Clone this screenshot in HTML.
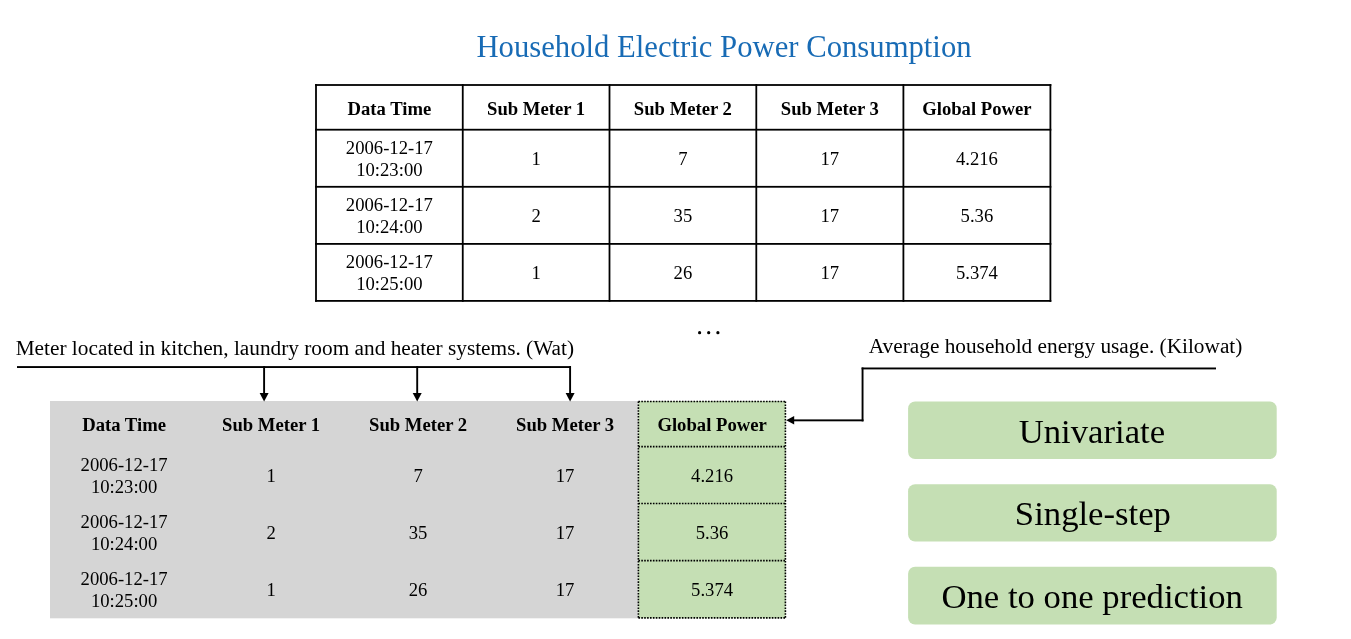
<!DOCTYPE html>
<html><head><meta charset="utf-8"><style>
html,body{margin:0;padding:0;background:#ffffff;overflow:hidden;}
svg{display:block;will-change:transform;font-family:"Liberation Serif", serif;}
</style></head><body>
<svg width="1351" height="639" viewBox="0 0 1351 639">
<rect x="50" y="401" width="588.5" height="217.3" fill="#d5d5d5"/>
<rect x="638.4" y="401" width="147.2" height="217.3" fill="#c5dfb4"/>
<rect x="315.10" y="84.10" width="1.8" height="217.70" fill="#000"/>
<rect x="461.85" y="84.10" width="1.8" height="217.70" fill="#000"/>
<rect x="608.60" y="84.10" width="1.8" height="217.70" fill="#000"/>
<rect x="755.40" y="84.10" width="1.8" height="217.70" fill="#000"/>
<rect x="902.50" y="84.10" width="1.8" height="217.70" fill="#000"/>
<rect x="1049.50" y="84.10" width="1.8" height="217.70" fill="#000"/>
<rect x="315.10" y="84.10" width="736.20" height="1.8" fill="#000"/>
<rect x="315.10" y="128.80" width="736.20" height="1.8" fill="#000"/>
<rect x="315.10" y="185.90" width="736.20" height="1.8" fill="#000"/>
<rect x="315.10" y="243.00" width="736.20" height="1.8" fill="#000"/>
<rect x="315.10" y="300.00" width="736.20" height="1.8" fill="#000"/>
<circle cx="699.6" cy="332.7" r="1.6" fill="#000"/>
<circle cx="708.7" cy="332.7" r="1.6" fill="#000"/>
<circle cx="717.9" cy="332.7" r="1.6" fill="#000"/>
<rect x="17" y="366.1" width="554" height="1.9" fill="#000"/>
<rect x="263.15" y="366.1" width="1.9" height="28" fill="#000"/>
<path d="M259.60 393 L268.60 393 L264.10 401.6 Z" fill="#000"/>
<rect x="416.25" y="366.1" width="1.9" height="28" fill="#000"/>
<path d="M412.70 393 L421.70 393 L417.20 401.6 Z" fill="#000"/>
<rect x="569.15" y="366.1" width="1.9" height="28" fill="#000"/>
<path d="M565.60 393 L574.60 393 L570.10 401.6 Z" fill="#000"/>
<rect x="861.6" y="367.5" width="354.4" height="1.9" fill="#000"/>
<rect x="861.6" y="367.5" width="1.9" height="53.9" fill="#000"/>
<rect x="793" y="419.4" width="70.5" height="1.9" fill="#000"/>
<path d="M786.2 420.35 L794.2 416.1 L794.2 424.6 Z" fill="#000"/>
<line x1="638.4" y1="401.5" x2="785.4" y2="401.5" stroke="#000" stroke-width="1.6" stroke-dasharray="1.6 1.3"/>
<line x1="638.4" y1="446.6" x2="785.4" y2="446.6" stroke="#000" stroke-width="1.6" stroke-dasharray="1.6 1.3"/>
<line x1="638.4" y1="503.45" x2="785.4" y2="503.45" stroke="#000" stroke-width="1.6" stroke-dasharray="1.6 1.3"/>
<line x1="638.4" y1="560.6" x2="785.4" y2="560.6" stroke="#000" stroke-width="1.6" stroke-dasharray="1.6 1.3"/>
<line x1="638.4" y1="617.9" x2="785.4" y2="617.9" stroke="#000" stroke-width="1.6" stroke-dasharray="1.6 1.3"/>
<line x1="638.4" y1="401.5" x2="638.4" y2="617.8" stroke="#000" stroke-width="1.6" stroke-dasharray="1.6 1.3"/>
<line x1="785.4" y1="401.5" x2="785.4" y2="617.8" stroke="#000" stroke-width="1.6" stroke-dasharray="1.6 1.3"/>
<rect x="908.1" y="401.4" width="368.6" height="57.70" rx="7" ry="7" fill="#c5dfb4"/>
<rect x="908.1" y="484.2" width="368.6" height="57.30" rx="7" ry="7" fill="#c5dfb4"/>
<rect x="908.1" y="566.8" width="368.6" height="57.70" rx="7" ry="7" fill="#c5dfb4"/>
<text x="724.00" y="56.80" font-size="30.7" font-weight="normal" fill="#186bb5" text-anchor="middle">Household Electric Power Consumption</text>
<text x="389.38" y="114.80" font-size="18.67" font-weight="bold" fill="#000" text-anchor="middle">Data Time</text>
<text x="536.12" y="114.80" font-size="18.67" font-weight="bold" fill="#000" text-anchor="middle">Sub Meter 1</text>
<text x="682.90" y="114.80" font-size="18.67" font-weight="bold" fill="#000" text-anchor="middle">Sub Meter 2</text>
<text x="829.85" y="114.80" font-size="18.67" font-weight="bold" fill="#000" text-anchor="middle">Sub Meter 3</text>
<text x="976.90" y="114.80" font-size="18.67" font-weight="bold" fill="#000" text-anchor="middle">Global Power</text>
<text x="389.38" y="154.00" font-size="18.67" font-weight="normal" fill="#000" text-anchor="middle">2006-12-17</text>
<text x="389.38" y="176.00" font-size="18.67" font-weight="normal" fill="#000" text-anchor="middle">10:23:00</text>
<text x="536.12" y="165.00" font-size="18.67" font-weight="normal" fill="#000" text-anchor="middle">1</text>
<text x="682.90" y="165.00" font-size="18.67" font-weight="normal" fill="#000" text-anchor="middle">7</text>
<text x="829.85" y="165.00" font-size="18.67" font-weight="normal" fill="#000" text-anchor="middle">17</text>
<text x="976.90" y="165.00" font-size="18.67" font-weight="normal" fill="#000" text-anchor="middle">4.216</text>
<text x="389.38" y="211.00" font-size="18.67" font-weight="normal" fill="#000" text-anchor="middle">2006-12-17</text>
<text x="389.38" y="233.00" font-size="18.67" font-weight="normal" fill="#000" text-anchor="middle">10:24:00</text>
<text x="536.12" y="222.00" font-size="18.67" font-weight="normal" fill="#000" text-anchor="middle">2</text>
<text x="682.90" y="222.00" font-size="18.67" font-weight="normal" fill="#000" text-anchor="middle">35</text>
<text x="829.85" y="222.00" font-size="18.67" font-weight="normal" fill="#000" text-anchor="middle">17</text>
<text x="976.90" y="222.00" font-size="18.67" font-weight="normal" fill="#000" text-anchor="middle">5.36</text>
<text x="389.38" y="268.00" font-size="18.67" font-weight="normal" fill="#000" text-anchor="middle">2006-12-17</text>
<text x="389.38" y="290.00" font-size="18.67" font-weight="normal" fill="#000" text-anchor="middle">10:25:00</text>
<text x="536.12" y="279.00" font-size="18.67" font-weight="normal" fill="#000" text-anchor="middle">1</text>
<text x="682.90" y="279.00" font-size="18.67" font-weight="normal" fill="#000" text-anchor="middle">26</text>
<text x="829.85" y="279.00" font-size="18.67" font-weight="normal" fill="#000" text-anchor="middle">17</text>
<text x="976.90" y="279.00" font-size="18.67" font-weight="normal" fill="#000" text-anchor="middle">5.374</text>
<text x="15.70" y="354.80" font-size="21.3" font-weight="normal" fill="#000" text-anchor="start">Meter located in kitchen, laundry room and heater systems. (Wat)</text>
<text x="868.80" y="352.70" font-size="21.3" font-weight="normal" fill="#000" text-anchor="start">Average household energy usage. (Kilowat)</text>
<text x="124.10" y="431.00" font-size="18.67" font-weight="bold" fill="#000" text-anchor="middle">Data Time</text>
<text x="271.10" y="431.00" font-size="18.67" font-weight="bold" fill="#000" text-anchor="middle">Sub Meter 1</text>
<text x="418.10" y="431.00" font-size="18.67" font-weight="bold" fill="#000" text-anchor="middle">Sub Meter 2</text>
<text x="565.10" y="431.00" font-size="18.67" font-weight="bold" fill="#000" text-anchor="middle">Sub Meter 3</text>
<text x="712.10" y="431.00" font-size="18.67" font-weight="bold" fill="#000" text-anchor="middle">Global Power</text>
<text x="124.10" y="471.00" font-size="18.67" font-weight="normal" fill="#000" text-anchor="middle">2006-12-17</text>
<text x="124.10" y="493.00" font-size="18.67" font-weight="normal" fill="#000" text-anchor="middle">10:23:00</text>
<text x="271.10" y="482.00" font-size="18.67" font-weight="normal" fill="#000" text-anchor="middle">1</text>
<text x="418.10" y="482.00" font-size="18.67" font-weight="normal" fill="#000" text-anchor="middle">7</text>
<text x="565.10" y="482.00" font-size="18.67" font-weight="normal" fill="#000" text-anchor="middle">17</text>
<text x="712.10" y="482.00" font-size="18.67" font-weight="normal" fill="#000" text-anchor="middle">4.216</text>
<text x="124.10" y="528.00" font-size="18.67" font-weight="normal" fill="#000" text-anchor="middle">2006-12-17</text>
<text x="124.10" y="550.00" font-size="18.67" font-weight="normal" fill="#000" text-anchor="middle">10:24:00</text>
<text x="271.10" y="539.00" font-size="18.67" font-weight="normal" fill="#000" text-anchor="middle">2</text>
<text x="418.10" y="539.00" font-size="18.67" font-weight="normal" fill="#000" text-anchor="middle">35</text>
<text x="565.10" y="539.00" font-size="18.67" font-weight="normal" fill="#000" text-anchor="middle">17</text>
<text x="712.10" y="539.00" font-size="18.67" font-weight="normal" fill="#000" text-anchor="middle">5.36</text>
<text x="124.10" y="585.00" font-size="18.67" font-weight="normal" fill="#000" text-anchor="middle">2006-12-17</text>
<text x="124.10" y="607.00" font-size="18.67" font-weight="normal" fill="#000" text-anchor="middle">10:25:00</text>
<text x="271.10" y="596.00" font-size="18.67" font-weight="normal" fill="#000" text-anchor="middle">1</text>
<text x="418.10" y="596.00" font-size="18.67" font-weight="normal" fill="#000" text-anchor="middle">26</text>
<text x="565.10" y="596.00" font-size="18.67" font-weight="normal" fill="#000" text-anchor="middle">17</text>
<text x="712.10" y="596.00" font-size="18.67" font-weight="normal" fill="#000" text-anchor="middle">5.374</text>
<text x="1091.90" y="442.90" font-size="34.7" font-weight="normal" fill="#000" text-anchor="middle">Univariate</text>
<text x="1092.90" y="525.00" font-size="34.7" font-weight="normal" fill="#000" text-anchor="middle">Single-step</text>
<text x="1092.20" y="608.00" font-size="34.7" font-weight="normal" fill="#000" text-anchor="middle">One to one prediction</text>
</svg>
</body></html>
